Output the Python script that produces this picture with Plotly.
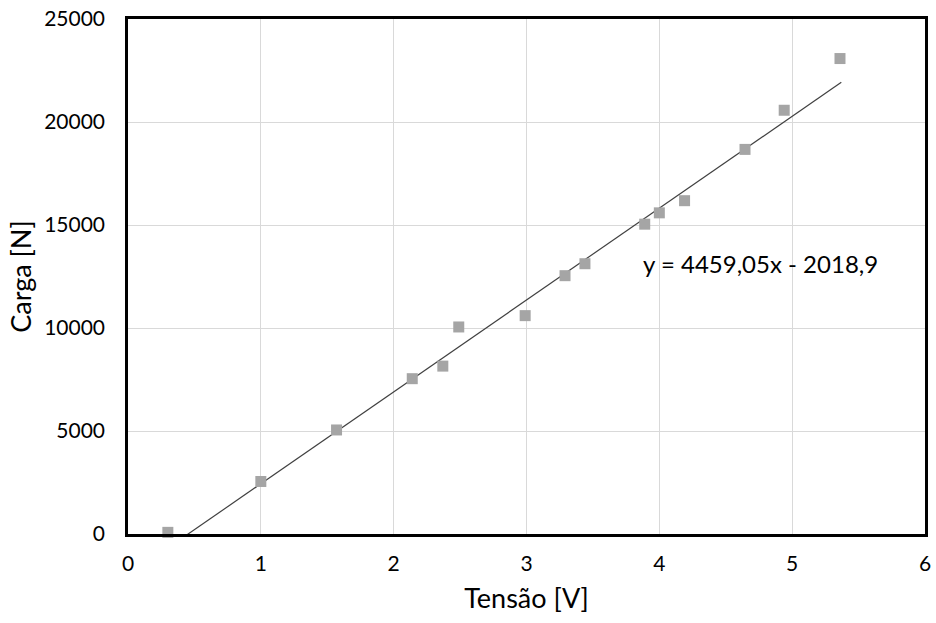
import plotly.graph_objects as go

tensao = [0.30, 1.00, 1.57, 2.14, 2.37, 2.49, 2.99, 3.29, 3.44, 3.89, 4.00, 4.19, 4.645, 4.94, 5.36]
carga = [80, 2550, 5050, 7540, 8150, 10050, 10600, 12540, 13120, 15040, 15590, 16180, 18670, 20570, 23080]

slope = 4459.05
intercept = -2018.9
trend_x = [min(tensao), 5.37]
trend_y = [slope * v + intercept for v in trend_x]

x_ticks = [0, 1, 2, 3, 4, 5, 6]
y_ticks = [0, 5000, 10000, 15000, 20000, 25000]
y_tick_labels = ["0", "5000", "10000", "15000", "20000", "25000"]

font_family = "Lato, 'Open Sans', sans-serif"

fig = go.Figure()
fig.add_trace(go.Scatter(
    x=trend_x, y=trend_y, mode="lines",
    line=dict(color="#404040", width=1.2),
    showlegend=False, hoverinfo="skip",
))
fig.add_trace(go.Scatter(
    x=tensao, y=carga, mode="markers",
    marker=dict(symbol="square", size=11, color="#A5A5A5"),
    cliponaxis=False, showlegend=False,
))

fig.add_annotation(
    x=3.86, y=13150, xref="x", yref="y",
    text="y = 4459,05x - 2018,9", showarrow=False,
    xanchor="left", yanchor="middle",
    font=dict(family=font_family, size=24, color="#000000"),
)

fig.update_xaxes(
    range=[0, 6], tickvals=x_ticks,
    showgrid=True, gridcolor="#D9D9D9", gridwidth=1,
    showline=True, linecolor="#000000", linewidth=2.5, mirror=True,
    ticks="outside", ticklen=9, tickcolor="rgba(0,0,0,0)",
    tickfont=dict(family=font_family, size=21, color="#000000"),
    title=dict(text="Tensão [V]", font=dict(family=font_family, size=27, color="#000000"), standoff=16),
    zeroline=False,
)
fig.update_yaxes(
    range=[0, 25000], tickvals=y_ticks, ticktext=y_tick_labels,
    showgrid=True, gridcolor="#D9D9D9", gridwidth=1,
    showline=True, linecolor="#000000", linewidth=2.5, mirror=True,
    ticks="outside", ticklen=16, tickcolor="rgba(0,0,0,0)",
    tickfont=dict(family=font_family, size=21, color="#000000"),
    title=dict(text="Carga [N]", font=dict(family=font_family, size=27, color="#000000"), standoff=5),
    zeroline=False,
)

fig.update_layout(
    width=936, height=623,
    margin=dict(l=128, r=5, t=19, b=89),
    plot_bgcolor="#FFFFFF", paper_bgcolor="#FFFFFF",
)

fig.write_html(
    "out.html",
    config={"displayModeBar": False},
    post_script="document.body.style.margin='0px';document.documentElement.style.overflow='hidden';document.body.style.overflow='hidden';",
)
